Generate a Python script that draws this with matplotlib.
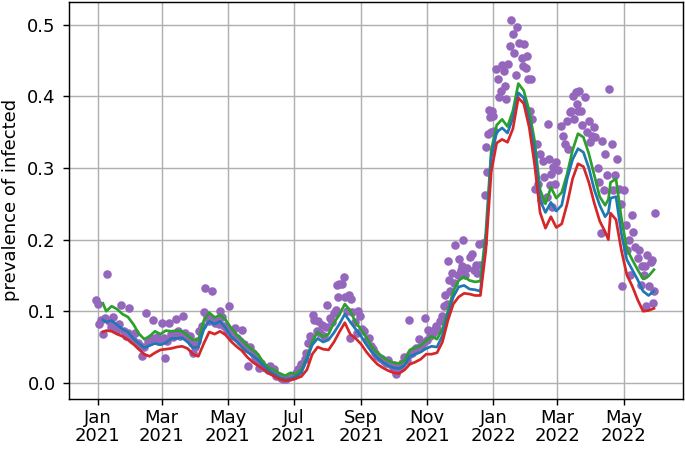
import numpy as np
import matplotlib
matplotlib.use('Agg')
import matplotlib.pyplot as plt
import matplotlib.dates as mdates

start = np.datetime64('2021-01-01')

# model curves: day offset from 2021-01-01
line_days = [5, 8, 13, 18, 23, 28, 33, 38, 43, 48, 53, 58, 63, 68, 73, 78, 83, 88, 93, 98,
             103, 108, 113, 118, 123, 128, 133, 138, 143, 148, 153, 158, 163, 168, 173, 178,
             183, 188, 193, 198, 203, 208, 213, 218, 223, 228, 233, 238, 243, 248, 253, 258,
             263, 268, 273, 278, 283, 288, 293, 298, 303, 308, 313, 318, 323, 328, 333, 338,
             343, 348, 353, 358, 363, 368, 373, 378, 383, 388, 393, 398, 403, 408, 413, 418,
             423, 428, 433, 438, 443, 448, 453, 458, 463, 468, 471, 473, 478, 483, 488, 493,
             498, 503, 508, 513]

green = [0.111, 0.100, 0.107, 0.103, 0.096, 0.092, 0.082, 0.069, 0.061, 0.065, 0.072, 0.068,
         0.073, 0.072, 0.073, 0.072, 0.066, 0.060, 0.060, 0.087, 0.098, 0.091, 0.095, 0.088,
         0.077, 0.068, 0.060, 0.052, 0.046, 0.040, 0.028, 0.021, 0.018, 0.013, 0.010, 0.014,
         0.012, 0.019, 0.035, 0.058, 0.071, 0.064, 0.068, 0.084, 0.095, 0.110, 0.101, 0.084,
         0.075, 0.063, 0.050, 0.042, 0.036, 0.031, 0.028, 0.027, 0.031, 0.046, 0.049, 0.052,
         0.059, 0.065, 0.061, 0.075, 0.100, 0.128, 0.143, 0.148, 0.143, 0.141, 0.142, 0.210,
         0.325, 0.360, 0.368, 0.358, 0.380, 0.418, 0.408, 0.380, 0.338, 0.270, 0.250, 0.273,
         0.258, 0.266, 0.292, 0.325, 0.348, 0.343, 0.320, 0.290, 0.260, 0.248, 0.256, 0.280,
         0.285, 0.230, 0.187, 0.172, 0.158, 0.145, 0.149, 0.158]

blue = [0.088, 0.085, 0.087, 0.081, 0.075, 0.071, 0.062, 0.055, 0.049, 0.052, 0.055, 0.053,
        0.056, 0.062, 0.062, 0.063, 0.057, 0.049, 0.050, 0.075, 0.086, 0.082, 0.086, 0.077,
        0.065, 0.058, 0.050, 0.043, 0.038, 0.032, 0.024, 0.017, 0.012, 0.007, 0.005, 0.006,
        0.009, 0.014, 0.033, 0.053, 0.062, 0.057, 0.060, 0.070, 0.082, 0.096, 0.085, 0.075,
        0.065, 0.053, 0.043, 0.035, 0.029, 0.024, 0.021, 0.020, 0.024, 0.037, 0.040, 0.043,
        0.048, 0.051, 0.050, 0.066, 0.095, 0.120, 0.134, 0.136, 0.131, 0.130, 0.128, 0.195,
        0.315, 0.350, 0.356, 0.349, 0.370, 0.405, 0.398, 0.366, 0.325, 0.255, 0.238, 0.252,
        0.240, 0.248, 0.285, 0.312, 0.327, 0.322, 0.300, 0.270, 0.248, 0.232, 0.238, 0.258,
        0.260, 0.208, 0.172, 0.158, 0.144, 0.128, 0.122, 0.128]

red = [0.071, 0.073, 0.072, 0.068, 0.065, 0.060, 0.054, 0.047, 0.040, 0.037, 0.042, 0.046,
       0.047, 0.048, 0.050, 0.051, 0.048, 0.040, 0.037, 0.055, 0.071, 0.068, 0.072, 0.067,
       0.058, 0.051, 0.045, 0.036, 0.029, 0.024, 0.019, 0.013, 0.009, 0.005, 0.003, 0.004,
       0.006, 0.009, 0.018, 0.040, 0.050, 0.047, 0.046, 0.057, 0.071, 0.084, 0.068, 0.062,
       0.054, 0.043, 0.034, 0.026, 0.021, 0.017, 0.014, 0.013, 0.018, 0.026, 0.029, 0.033,
       0.040, 0.040, 0.042, 0.057, 0.087, 0.110, 0.120, 0.125, 0.124, 0.122, 0.122, 0.185,
       0.295, 0.335, 0.340, 0.336, 0.355, 0.398, 0.390, 0.357, 0.305, 0.238, 0.216, 0.232,
       0.217, 0.222, 0.250, 0.285, 0.306, 0.302, 0.280, 0.251, 0.226, 0.211, 0.200, 0.237,
       0.228, 0.185, 0.151, 0.135, 0.116, 0.100, 0.101, 0.104]

# observed prevalence (purple dots)
obs_days = [-1, 0, 1, 3, 5, 7, 9, 11, 12, 14, 16, 18, 20, 22, 24, 26, 28, 29, 31, 33,
            35, 37, 39, 41, 43, 45, 47, 49, 51, 53, 55, 57, 59, 61, 62, 64, 66, 68, 70, 72,
            74, 76, 79, 81, 83, 85, 87, 88, 90, 92, 94, 96, 98, 99, 101, 103, 105, 106, 108, 110,
            112, 113, 115, 117, 119, 121, 123, 125, 127, 129, 131, 133, 135, 137, 139, 141, 143, 145, 147, 149,
            151, 153, 155, 157, 159, 161, 163, 165, 167, 169, 171, 174, 177, 180, 183, 185, 188, 191, 192, 194,
            196, 197, 199, 200, 202, 203, 205, 207, 209, 211, 212, 214, 216, 218, 220, 221, 222, 223, 225, 227,
            228, 230, 232, 233, 234, 235, 237, 239, 240, 242, 244, 246, 248, 250, 252, 254, 256, 258, 260, 262,
            264, 266, 268, 270, 272, 273, 275, 277, 279, 281, 283, 285, 287, 288, 290, 292, 294, 296, 298, 300,
            302, 304, 305, 307, 309, 310, 312, 314, 316, 318, 319, 320, 322, 323, 324, 325, 327, 329, 330, 332,
            333, 335, 336, 337, 339, 341, 343, 345, 347, 349, 350, 352, 353, 355, 357, 358, 359, 360, 361, 362,
            363, 364, 365, 366, 367, 369, 370, 372, 373, 375, 376, 377, 378, 380, 381, 383, 384, 386, 387, 389,
            391, 392, 393, 395, 396, 397, 399, 400, 401, 403, 405, 406, 408, 409, 411, 412, 414, 415, 416, 417,
            418, 419, 420, 422, 423, 425, 427, 429, 431, 433, 434, 436, 437, 438, 439, 441, 442, 443, 444, 446,
            447, 449, 451, 453, 454, 456, 458, 459, 461, 462, 464, 465, 467, 468, 470, 472, 474, 475, 477, 479,
            481, 483, 484, 485, 487, 488, 490, 491, 493, 494, 496, 498, 499, 501, 502, 504, 505, 506, 507, 508,
            510, 511, 512, 513, 514]

obs = [0.116, 0.110, 0.082, 0.088, 0.068, 0.090, 0.152, 0.086, 0.078, 0.092, 0.080, 0.074, 0.082, 0.108, 0.072, 0.066, 0.070, 0.105, 0.064, 0.060,
       0.070, 0.056, 0.052, 0.038, 0.050, 0.098, 0.058, 0.062, 0.088, 0.060, 0.064, 0.058, 0.084, 0.062, 0.035, 0.058, 0.083, 0.068, 0.064, 0.089,
       0.072, 0.066, 0.094, 0.070, 0.062, 0.066, 0.055, 0.042, 0.050, 0.058, 0.072, 0.080, 0.099, 0.132, 0.092, 0.086, 0.090, 0.128, 0.084, 0.088,
       0.082, 0.100, 0.092, 0.080, 0.074, 0.107, 0.070, 0.066, 0.077, 0.062, 0.058, 0.074, 0.054, 0.048, 0.024, 0.050, 0.042, 0.036, 0.030, 0.021,
       0.028, 0.022, 0.020, 0.018, 0.024, 0.016, 0.019, 0.010, 0.009, 0.007, 0.006, 0.005, 0.008, 0.010, 0.014, 0.019, 0.026, 0.033, 0.042, 0.056,
       0.065, 0.061, 0.095, 0.088, 0.072, 0.086, 0.070, 0.081, 0.066, 0.078, 0.109, 0.090, 0.085, 0.098, 0.102, 0.137, 0.120, 0.138, 0.138, 0.148,
       0.120, 0.100, 0.123, 0.063, 0.117, 0.099, 0.085, 0.070, 0.100, 0.093, 0.075, 0.072, 0.060, 0.063, 0.052, 0.047, 0.042, 0.038, 0.035, 0.033,
       0.030, 0.028, 0.032, 0.026, 0.022, 0.025, 0.012, 0.020, 0.023, 0.028, 0.036, 0.032, 0.088, 0.040, 0.042, 0.046, 0.049, 0.061, 0.052, 0.056,
       0.091, 0.060, 0.074, 0.066, 0.070, 0.074, 0.080, 0.074, 0.086, 0.094, 0.107, 0.123, 0.110, 0.170, 0.144, 0.128, 0.153, 0.140, 0.192, 0.150,
       0.173, 0.158, 0.163, 0.200, 0.151, 0.160, 0.176, 0.180, 0.158, 0.165, 0.153, 0.194, 0.165, 0.195, 0.263, 0.330, 0.295, 0.348, 0.381, 0.371,
       0.350, 0.380, 0.373, 0.352, 0.438, 0.424, 0.399, 0.408, 0.444, 0.435, 0.415, 0.396, 0.445, 0.471, 0.507, 0.487, 0.461, 0.430, 0.497, 0.475,
       0.453, 0.443, 0.473, 0.440, 0.456, 0.424, 0.380, 0.424, 0.368, 0.271, 0.334, 0.278, 0.320, 0.255, 0.310, 0.288, 0.260, 0.362, 0.313, 0.276,
       0.292, 0.246, 0.301, 0.278, 0.308, 0.297, 0.359, 0.345, 0.334, 0.366, 0.327, 0.378, 0.380, 0.401, 0.368, 0.406, 0.390, 0.380, 0.407, 0.380,
       0.360, 0.399, 0.350, 0.366, 0.336, 0.345, 0.357, 0.343, 0.300, 0.280, 0.209, 0.338, 0.269, 0.320, 0.290, 0.410, 0.334, 0.269, 0.290, 0.312,
       0.271, 0.250, 0.135, 0.269, 0.221, 0.186, 0.200, 0.150, 0.234, 0.210, 0.190, 0.175, 0.186, 0.137, 0.163, 0.150, 0.163, 0.107, 0.179, 0.135,
       0.169, 0.172, 0.112, 0.128, 0.237]

line_dates = start + np.array(line_days, dtype='timedelta64[D]')
obs_dates = start + np.array(obs_days, dtype='timedelta64[D]')

fig = plt.figure(figsize=(685 / 130, 449 / 130), dpi=130)
ax = fig.add_axes([0.100, 0.112, 0.897, 0.884])

ax.scatter(obs_dates, obs, s=14, color='tab:purple', zorder=2)
ax.plot(line_dates, green, color='tab:green', zorder=3)
ax.plot(line_dates, blue, color='tab:blue', zorder=3)
ax.plot(line_dates, red, color='tab:red', zorder=3)

ax.xaxis.set_major_locator(mdates.MonthLocator(bymonth=[1, 3, 5, 7, 9, 11]))
ax.xaxis.set_major_formatter(mdates.DateFormatter('%b\n%Y'))
ax.tick_params(axis='x', pad=2)
for lab in ax.get_xticklabels():
    lab.set_linespacing(1.0)
ax.set_ylabel('prevalence of infected')
ax.grid(True)

fig.savefig('out.png', dpi=130)
